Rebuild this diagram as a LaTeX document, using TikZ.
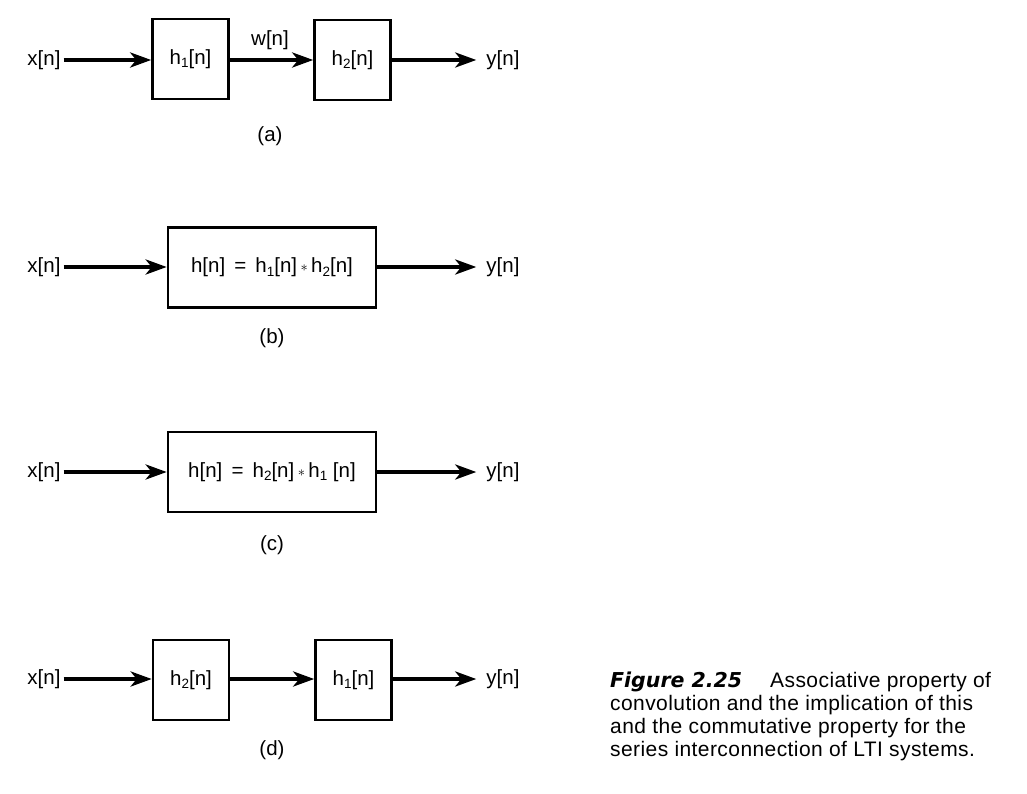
\documentclass[tikz,border=0pt]{standalone}
\usepackage{fontspec}
\setmainfont{Liberation Sans}
\newfontfamily\capfont{Liberation Sans}[LetterSpace=2]
\newfontfamily\figfont{DejaVu Sans}
\usetikzlibrary{arrows.meta}
\newcommand\sbs[1]{\raisebox{-0.34ex}{\fontsize{13.5}{13.5}\selectfont #1}}
\newcommand\cstar{\,\raisebox{0.05em}{$\scriptstyle\ast$}\,}
\begin{document}
\begin{tikzpicture}[x=1pt,y=-1pt,
  lbl/.style={font=\fontsize{20.5}{22}\selectfont, inner sep=3pt},
  blk/.style={draw, line width=2.6pt, minimum width=76pt, minimum height=80pt, font=\fontsize{20.5}{22}\selectfont, inner sep=0pt},
  wblk/.style={blk, minimum width=208pt},
  arr/.style={line width=4.2pt, -{Stealth[length=21pt,width=15pt,inset=6pt]}},
  arrout/.style={arr, shorten >=7pt},
  captxt/.style={anchor=base west, inner sep=0pt, font=\capfont\fontsize{21}{23}\selectfont}]
\useasboundingbox (0,0) rectangle (1027,794);
% (a)
\node[lbl] (xa) at (44,60) {x[n]};
\node[blk] (h1a) at (190.5,59) {h\sbs{1}[n]};
\node[blk] (h2a) at (352.5,60) {h\sbs{2}[n]};
\node[lbl] (ya) at (503,60) {y[n]};
\node[lbl] (wa) at (270,40) {w[n]};
\node[lbl] (la) at (270,136) {(a)};
\draw[arr] (xa) -- (h1a.west |- xa);
\draw[arr] (h1a.east |- xa) -- (h2a.west |- xa);
\draw[arrout] (h2a) -- (ya);
% (b)
\node[lbl] (xb) at (44,267) {x[n]};
\node[wblk] (hb) at (272,267.5) {h[n] \,=\, h\sbs{1}[n]\cstar h\sbs{2}[n]};
\node[lbl] (yb) at (503,267) {y[n]};
\node[lbl] (lb) at (272,338) {(b)};
\draw[arr] (xb) -- (hb.west |- xb);
\draw[arrout] (hb.east |- yb) -- (yb);
% (c)
\node[lbl] (xc) at (44,472) {x[n]};
\node[wblk] (hc) at (272,472) {h[n] \,=\, h\sbs{2}[n]\cstar h\sbs{1} [n]};
\node[lbl] (yc) at (503,472) {y[n]};
\node[lbl] (lc) at (272,545) {(c)};
\draw[arr] (xc) -- (hc);
\draw[arrout] (hc) -- (yc);
% (d)
\node[lbl] (xd) at (44,679) {x[n]};
\node[blk] (h2d) at (191,680) {h\sbs{2}[n]};
\node[blk] (h1d) at (353.5,680) {h\sbs{1}[n]};
\node[lbl] (yd) at (503,679) {y[n]};
\node[lbl] (ld) at (272,750) {(d)};
\draw[arr] (xd) -- (h2d.west |- xd);
\draw[arr] (h2d.east |- xd) -- (h1d.west |- xd);
\draw[arrout] (h1d.east |- yd) -- (yd);
% caption
\node[captxt] (c1) at (610,687) {{\figfont\fontsize{20.5}{23}\selectfont\bfseries\itshape Figure 2.25}\hspace{28pt}Associative property of};
\node[captxt] (c2) at (610,710) {convolution and the implication of this};
\node[captxt] (c3) at (610,733) {and the commutative property for the};
\node[captxt] (c4) at (610,756) {series interconnection of LTI systems.};
\end{tikzpicture}
\end{document}
